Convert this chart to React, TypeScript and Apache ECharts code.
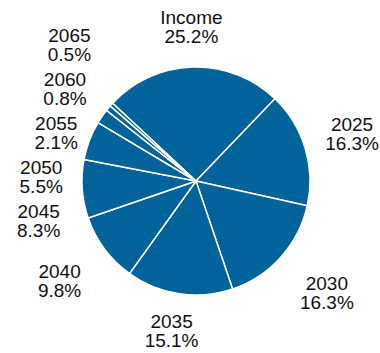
import React, { useEffect, useRef } from 'react';
import * as echarts from 'echarts';

const categories = ['Income', '2025', '2030', '2035', '2040', '2045', '2050', '2055', '2060', '2065'];
const shares = [25.2, 16.3, 16.3, 15.1, 9.8, 8.3, 5.5, 2.1, 0.8, 0.5];

const WIDTH = 380;
const HEIGHT = 353;
const START_ANGLE = 137;
const CENTER: [number, number] = [196, 181];
const RADIUS = 114;
const FONT_SIZE = 19;
const LINE_HEIGHT = 19;
const FONT = '"Liberation Sans", Arial, Helvetica, sans-serif';

function measure(text: string): number {
  const c = document.createElement('canvas').getContext('2d')!;
  c.font = `${FONT_SIZE}px ${FONT}`;
  return Math.max(...text.split('\n').map((t) => c.measureText(t).width));
}

function computeLabelPositions() {
  const total = shares.reduce((a, b) => a + b, 0);
  let acc = 0;
  const h = LINE_HEIGHT * 2;
  const pos = shares.map((v, i) => {
    const mid = acc + v / 2;
    acc += v;
    const th = ((90 - START_ANGLE + (360 * mid) / total) * Math.PI) / 180;
    const ux = Math.sin(th);
    const uy = -Math.cos(th);
    const w = measure(`${categories[i]}\n${v}%`);
    const gap = 20 + 15 * Math.abs(Math.sin(2 * th));
    const r = RADIUS + gap;
    return {
      x: CENTER[0] + ux * r + (ux * w) / 2,
      y: CENTER[1] + uy * r + (uy * h) / 2,
      w,
      crowded: ux < -0.5 && uy < 0.3,
    };
  });
  // spread the crowded labels on the left vertically
  const cluster = pos.filter((p) => p.crowded).sort((a, b) => a.y - b.y);
  const spacing = h + 6;
  let last = -Infinity;
  let totalShift = 0;
  cluster.forEach((p) => {
    const ny = Math.max(p.y, last + spacing);
    totalShift += ny - p.y;
    p.y = ny;
    last = ny;
  });
  const back = cluster.length ? totalShift / cluster.length / 2 : 0;
  cluster.forEach((p) => (p.y -= back));
  // keep every label inside the chart
  pos.forEach((p) => {
    p.x = Math.min(Math.max(p.x, p.w / 2 + 2), WIDTH - p.w / 2 - 1);
    p.y = Math.min(Math.max(p.y, h / 2 + 2), HEIGHT - h / 2 - 3);
  });
  return pos;
}

export default function App() {
  const ref = useRef<HTMLDivElement>(null);
  useEffect(() => {
    document.body.style.margin = '0';
    const chart = echarts.init(ref.current!, null, { renderer: 'svg' });
    const labelPos = computeLabelPositions();
    chart.setOption({
      animation: false,
      series: [
        {
          type: 'pie',
          center: CENTER,
          radius: RADIUS,
          startAngle: START_ANGLE,
          clockwise: true,
          avoidLabelOverlap: false,
          data: categories.map((n, i) => ({ name: n, value: shares[i] })),
          itemStyle: { color: '#02639b', borderColor: '#ffffff', borderWidth: 1.5 },
          label: {
            show: true,
            position: 'outside',
            formatter: '{b}\n{c}%',
            color: '#111111',
            fontSize: FONT_SIZE,
            lineHeight: LINE_HEIGHT,
            fontFamily: FONT,
            overflow: 'none',
            align: 'center',
          },
          labelLine: { show: false },
          emphasis: { disabled: true },
          labelLayout: (p: any) => {
            const lp = labelPos[p.dataIndex];
            return { x: lp.x, y: lp.y, align: 'center', verticalAlign: 'middle', hideOverlap: false };
          },
        },
      ],
    });
    return () => chart.dispose();
  }, []);
  return <div ref={ref} style={{ width: WIDTH, height: HEIGHT }} />;
}
